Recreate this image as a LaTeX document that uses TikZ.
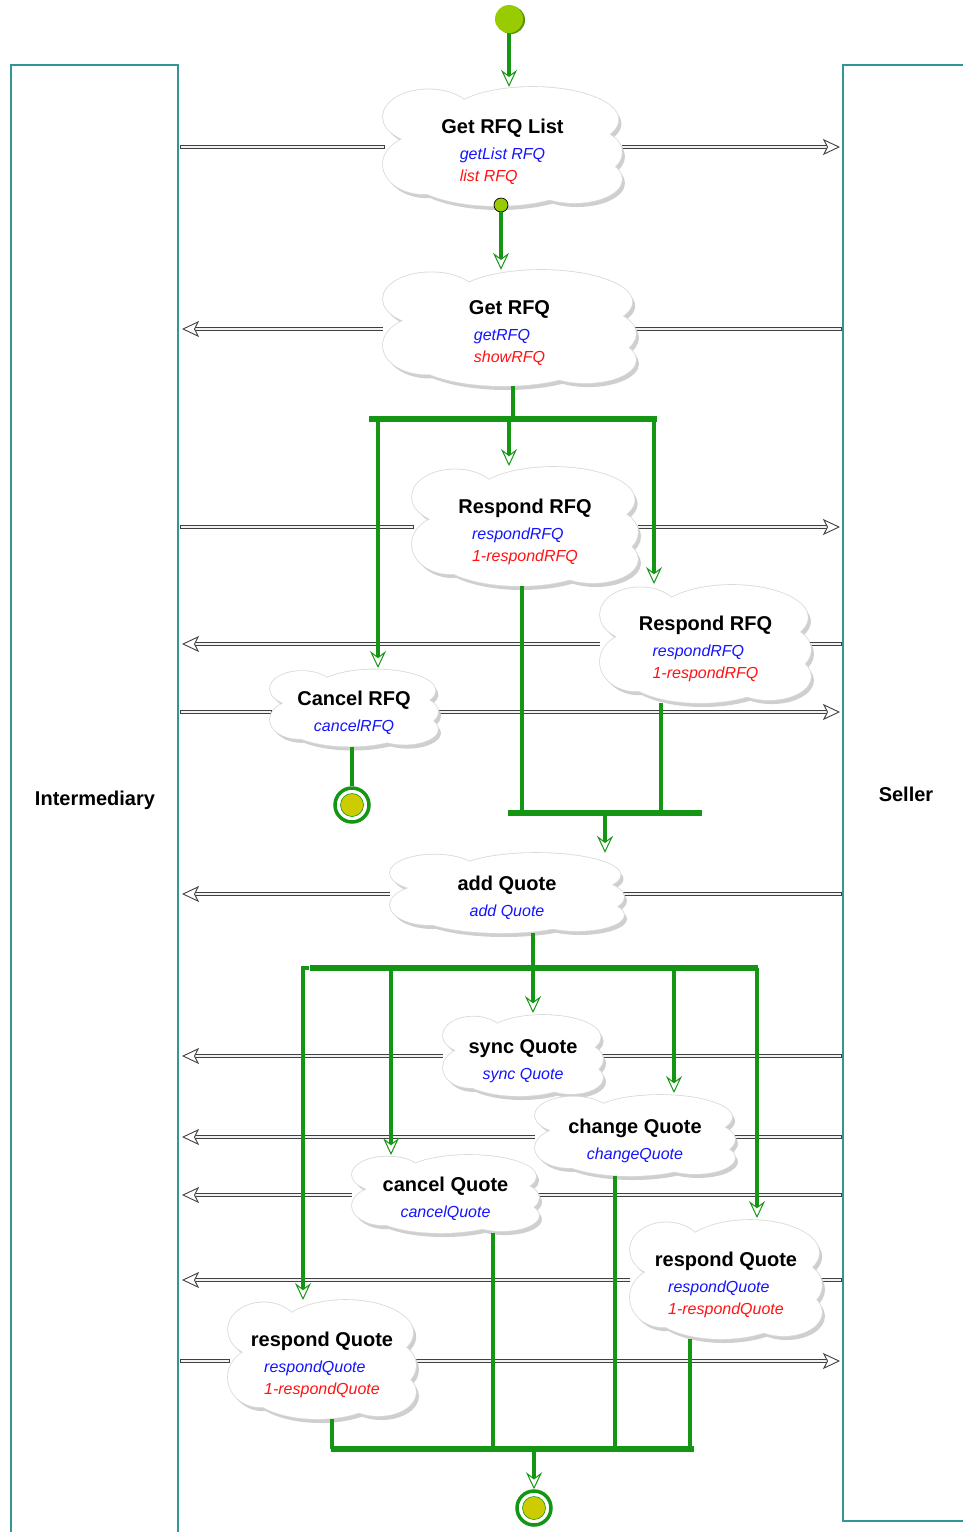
\documentclass[tikz,border=0pt]{standalone}
\usepackage{fontspec}
\setmainfont{Liberation Sans}
\usetikzlibrary{shadows,arrows.meta}

\definecolor{flowgreen}{RGB}{20,150,20}
\definecolor{lanecol}{RGB}{50,150,150}
\definecolor{startfill}{RGB}{153,204,0}
\definecolor{startdark}{RGB}{90,150,0}
\definecolor{endfill}{RGB}{204,204,0}
\definecolor{opblue}{RGB}{20,20,255}
\definecolor{opred}{RGB}{255,20,20}

\pgfdeclarelayer{msglayer}
\pgfsetlayers{msglayer,main}

% text helpers for the activity clouds
\newcommand\acttitle[1]{{\fontsize{20}{24}\selectfont\bfseries #1}}
\newcommand\opcall[1]{{\itshape\color{opblue}#1}}
\newcommand\opreply[1]{{\itshape\color{opred}#1}}
\newcommand\oplines[1]{\begin{tabular}[t]{@{}l@{}}#1\end{tabular}}

% puffs of an activity cloud, in a box running from -1 to 1 both ways
\newcommand\cloudpuffs{
  (0,0) ellipse [x radius=0.8, y radius=0.72]
  (-0.62,-0.5) ellipse [x radius=0.38, y radius=0.46]
  (0.25,-0.45) ellipse [x radius=0.72, y radius=0.55]
  (0.66,0.1) ellipse [x radius=0.34, y radius=0.42]
  (-0.05,0.45) ellipse [x radius=0.75, y radius=0.55]
  (-0.66,0.3) ellipse [x radius=0.34, y radius=0.5]
  (0.6,0.55) ellipse [x radius=0.4, y radius=0.4]}

% an activity: named box for the connectors, with its cloud and shadow
\newcommand\actcloud[5]{%
  \node[actbox, minimum width=#4pt, minimum height=#5pt] (#1) at (#2,#3) {};
  \begin{scope}[shift={(#2+3,#3+4)}, xscale=#4/2, yscale=#5/2]
    \fill[cloudshadow] \cloudpuffs;
  \end{scope}
  \begin{scope}[shift={(#2,#3)}, xscale=#4/2, yscale=#5/2]
    \draw[cloudedge] \cloudpuffs;
    \fill[white] \cloudpuffs;
  \end{scope}}

\begin{document}
\begin{tikzpicture}[x=1pt,y=-1pt,
  actbox/.style={rectangle, inner sep=0pt},
  cloudshadow/.style={fill=gray!38},
  cloudedge/.style={draw=gray!30, line width=1.6pt},
  acttext/.style={align=center, inner sep=0pt, yshift=-7pt, font=\fontsize{16}{22}\selectfont},
  lane/.style={draw=lanecol, line width=1.4pt},
  lanelabel/.style={font=\fontsize{20}{24}\selectfont\bfseries},
  flow/.style={draw=flowgreen, line width=3.5pt},
  flowarrow/.style={flow, -{Stealth[inset=6pt, length=17pt, width=16pt, line width=1pt, fill=white]}},
  bar/.style={rectangle, fill=flowgreen, inner sep=0pt, minimum height=6pt},
  msg/.style={draw=black!75, line width=0.9pt, double=gray!10, double distance=2.4pt, line cap=rect},
  msgarrow/.style={msg, line cap=butt, -{Stealth[inset=4pt, length=17pt, width=16pt, fill=white, line width=0.9pt]}},
  startnode/.style={circle, fill=startfill, minimum size=28pt, inner sep=0pt,
    drop shadow={shadow xshift=2pt, shadow yshift=-1pt, fill=startdark, opacity=1}},
  pin/.style={circle, fill=startfill, draw=black, line width=0.7pt, minimum size=14pt, inner sep=0pt},
  endring/.style={circle, draw=flowgreen, line width=3.5pt, fill=white, minimum size=34pt, inner sep=0pt},
  endcore/.style={circle, draw=flowgreen, line width=0.6pt, fill=endfill, minimum size=23pt, inner sep=0pt}
]
\useasboundingbox (0,0) rectangle (963,1532);

% swimlanes
\draw[lane] (11,1545) -- (11,65) -- (178,65) -- (178,1545);
\draw[lane] (975,1521) -- (843,1521) -- (843,65) -- (975,65);
\node[lanelabel] (intermediary) at (95,800) {Intermediary};
\node[lanelabel] (seller) at (906,794) {Seller};

% lane borders where the messages end
\foreach \n/\y in {1/147,2/329,3/527,4/644,5/712,6/894,7/1056,8/1137,9/1195,10/1280,11/1361}{
  \coordinate (i\n) at (182,\y);
  \coordinate (s\n) at (840,\y);
}

% activities
\actcloud{c1}{502.5}{146.5}{239}{119}
\node[acttext] (c1t) at (c1) {\acttitle{Get RFQ List}\\[4pt]\oplines{\opcall{getList RFQ}\\\opreply{list RFQ}}};
\actcloud{c2}{509.5}{328}{253}{116}
\node[acttext] (c2t) at (c2) {\acttitle{Get RFQ}\\[4pt]\oplines{\opcall{getRFQ}\\\opreply{showRFQ}}};
\actcloud{c3}{525}{526.5}{226}{119}
\node[acttext] (c3t) at (c3) {\acttitle{Respond RFQ}\\[4pt]\oplines{\opcall{respondRFQ}\\\opreply{1-respondRFQ}}};
\actcloud{c4}{705.5}{644}{211}{118}
\node[acttext] (c4t) at (c4) {\acttitle{Respond RFQ}\\[4pt]\oplines{\opcall{respondRFQ}\\\opreply{1-respondRFQ}}};
\actcloud{c5}{354}{708}{168}{77}
\node[acttext] (c5t) at (c5) {\acttitle{Cancel RFQ}\\[4pt]\oplines{\opcall{cancelRFQ}}};
\actcloud{c6}{507}{893}{234}{80}
\node[acttext] (c6t) at (c6) {\acttitle{add Quote}\\[4pt]\oplines{\opcall{add Quote}}};
\actcloud{c7}{523}{1055.5}{160}{81}
\node[acttext] (c7t) at (c7) {\acttitle{sync Quote}\\[4pt]\oplines{\opcall{sync Quote}}};
\actcloud{c8}{635}{1135.5}{200}{81}
\node[acttext] (c8t) at (c8) {\acttitle{change Quote}\\[4pt]\oplines{\opcall{changeQuote}}};
\actcloud{c9}{445.5}{1194}{187}{78}
\node[acttext] (c9t) at (c9) {\acttitle{cancel Quote}\\[4pt]\oplines{\opcall{cancelQuote}}};
\actcloud{c10}{726}{1279.5}{192}{119}
\node[acttext] (c10t) at (c10) {\acttitle{respond Quote}\\[4pt]\oplines{\opcall{respondQuote}\\\opreply{1-respondQuote}}};
\actcloud{c11}{322}{1359.5}{188}{119}
\node[acttext] (c11t) at (c11) {\acttitle{respond Quote}\\[4pt]\oplines{\opcall{respondQuote}\\\opreply{1-respondQuote}}};

% messages between the lanes, kept behind the activities
\begin{pgfonlayer}{msglayer}
  \draw[msg] (i1) -- (i1 -| c1.west);
  \draw[msgarrow] (s1 -| c1.east) -- (s1);
  \draw[msgarrow] (i2 -| c2.west) -- (i2);
  \draw[msg] (s2 -| c2.east) -- (s2);
  \draw[msg] (i3) -- (i3 -| c3.west);
  \draw[msgarrow] (s3 -| c3.east) -- (s3);
  \draw[msgarrow] (i4 -| c4.west) -- (i4);
  \draw[msg] (s4 -| c4.east) -- (s4);
  \draw[msg] (i5) -- (i5 -| c5.west);
  \draw[msgarrow] (s5 -| c5.east) -- (s5);
  \draw[msgarrow] (i6 -| c6.west) -- (i6);
  \draw[msg] (s6 -| c6.east) -- (s6);
  \draw[msgarrow] (i7 -| c7.west) -- (i7);
  \draw[msg] (s7 -| c7.east) -- (s7);
  \draw[msgarrow] (i8 -| c8.west) -- (i8);
  \draw[msg] (s8 -| c8.east) -- (s8);
  \draw[msgarrow] (i9 -| c9.west) -- (i9);
  \draw[msg] (s9 -| c9.east) -- (s9);
  \draw[msgarrow] (i10 -| c10.west) -- (i10);
  \draw[msg] (s10 -| c10.east) -- (s10);
  \draw[msg] (i11) -- (i11 -| c11.west);
  \draw[msgarrow] (s11 -| c11.east) -- (s11);
\end{pgfonlayer}

% initial and final nodes
\node[startnode] (start) at (509,19) {};
\node[pin] (c1out) at (501,205) {};
\node[endring] (end1) at (352,805) {};
\node[endcore] (end1core) at (end1) {};
\node[endring] (end2) at (534,1508) {};
\node[endcore] (end2core) at (end2) {};

% fork and join bars
\node[bar, minimum width=288pt] (fork1) at (513,419) {};
\node[bar, minimum width=194pt] (join2) at (605,813) {};
\node[bar, minimum width=448pt] (fork3) at (533.5,968) {};
\node[bar, minimum width=363pt] (join4) at (512.5,1449) {};

% branch ends on the activities
\coordinate (c5in) at (378,668);
\coordinate (c4in) at (654,584);
\coordinate (c3out) at (522,586);
\coordinate (c4out) at (661,703);
\coordinate (c3in) at (509,466);
\coordinate (c6out) at (533,933);
\coordinate (c7in) at (533,1013);
\coordinate (c8in) at (674,1093);
\coordinate (c9in) at (391,1155);
\coordinate (c10in) at (757,1218);
\coordinate (c11in) at (303,1300);
\coordinate (c11out) at (332,1419);
\coordinate (c9out) at (493,1233);
\coordinate (c8out) at (615,1176);
\coordinate (c10out) at (690,1339);

% control flow
\draw[flowarrow] (start) -- (start |- c1.north);
\draw[flowarrow] (c1out) -- (c1out |- c2.north);
\draw[flow] (fork1 |- c2.south) -- (fork1);
\draw[flowarrow] (fork1 -| c3in) -- (c3in);
\draw[flowarrow] (fork1 -| c5in) -- (c5in);
\draw[flowarrow] (fork1 -| c4in) -- (c4in);
\draw[flow] (c3out) -- (c3out |- join2);
\draw[flow] (c4out) -- (c4out |- join2);
\draw[flow] (c5.south -| end1) -- (end1);
\draw[flowarrow] (join2) -- (join2 |- c6.north);
\draw[flow] (c6out) -- (c6out |- fork3);
\draw[flowarrow] (fork3 -| c7in) -- (c7in);
\draw[flowarrow] (fork3 -| c8in) -- (c8in);
\draw[flowarrow] (fork3 -| c9in) -- (c9in);
\draw[flowarrow] (fork3 -| c10in) -- (c10in);
\draw[flowarrow] (fork3.west) -| (c11in);
\draw[flow] (c11out) -- (c11out |- join4);
\draw[flow] (c9out) -- (c9out |- join4);
\draw[flow] (c8out) -- (c8out |- join4);
\draw[flow] (c10out) -- (c10out |- join4);
\draw[flowarrow] (join4 -| end2) -- (end2.north);
\end{tikzpicture}
\end{document}
